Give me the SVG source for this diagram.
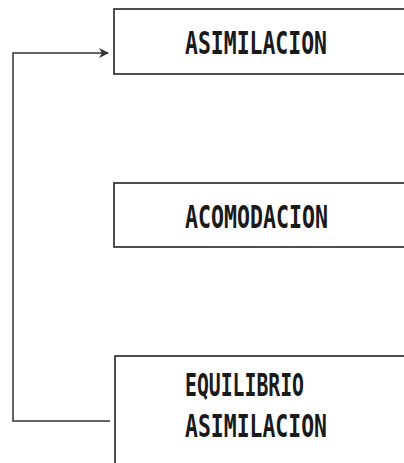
<svg xmlns="http://www.w3.org/2000/svg" width="404" height="463" viewBox="0 0 404 463">
<style>
.box{fill:none;stroke:#222;stroke-width:1.6}
.conn{fill:none;stroke:#333;stroke-width:1.5}
.lbl{font-family:"DejaVu Sans Mono","Liberation Mono",monospace;font-weight:bold;font-size:32px;fill:#1a1a1a}
</style>
<defs>
<marker id="arr" viewBox="0 0 10 10" refX="9" refY="5" markerWidth="10" markerHeight="10" markerUnits="userSpaceOnUse" orient="auto">
<path d="M0,0 L10,5 L0,10 L3,5 Z" fill="#333"/>
</marker>
</defs>
<g id="connectors">
<path class="conn" d="M110,421 L13,421 L13,53 L108,53" marker-end="url(#arr)"/>
</g>
<g id="asimilacion">
<rect class="box" x="114" y="9" width="300" height="65"/>
<text class="lbl" x="185" y="54" textLength="142" lengthAdjust="spacingAndGlyphs">ASIMILACION</text>
</g>
<g id="acomodacion">
<rect class="box" x="114" y="183" width="300" height="64"/>
<text class="lbl" x="185" y="228" textLength="143" lengthAdjust="spacingAndGlyphs">ACOMODACION</text>
</g>
<g id="equilibrio">
<rect class="box" x="115" y="356" width="300" height="120"/>
<text class="lbl" x="185" y="396" textLength="119" lengthAdjust="spacingAndGlyphs">EQUILIBRIO</text>
<text class="lbl" x="185" y="437" textLength="142" lengthAdjust="spacingAndGlyphs">ASIMILACION</text>
</g>
</svg>
